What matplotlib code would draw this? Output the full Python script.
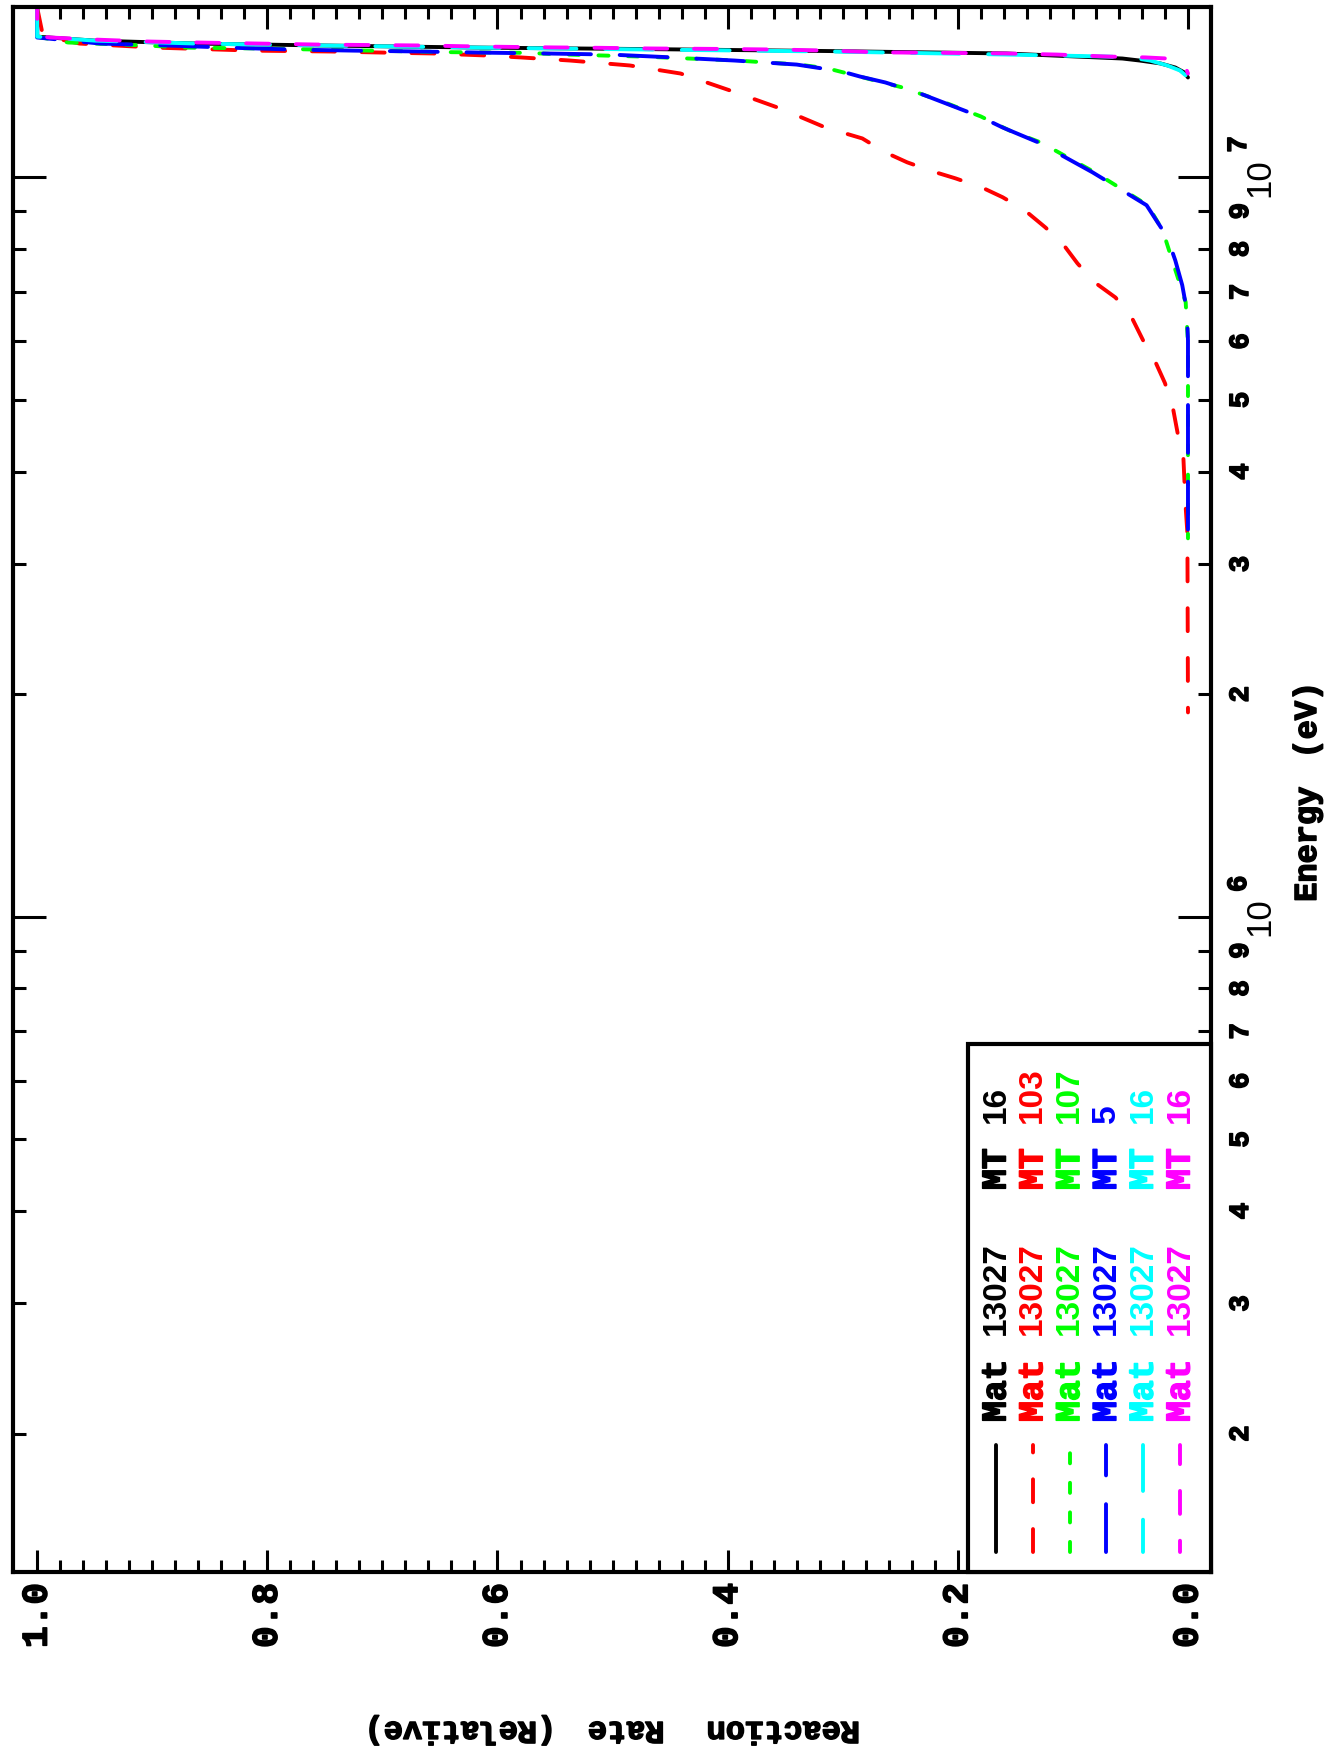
import numpy as np
import matplotlib
matplotlib.use("Agg")
import matplotlib.pyplot as plt
from matplotlib.transforms import blended_transform_factory, offset_copy
from matplotlib.patches import Rectangle
from matplotlib.lines import Line2D
from matplotlib.ticker import FixedLocator, NullFormatter
import matplotlib.patheffects as pe

W, H, DPI = 1335, 1753, 100

# ---------------- data: energy (eV) vs relative reaction rate ----------------
e_black = [1.697e7, 1.550e7, 1.531e7, 1.517e7, 1.508e7, 1.498e7, 1.491e7, 1.482e7,
           1.471e7, 1.448e7, 1.439e7, 1.426e7, 1.408e7, 1.386e7, 1.365e7]
r_black = [1.0, 1.0, 0.950, 0.861, 0.752, 0.614, 0.467, 0.311,
           0.158, 0.057, 0.042, 0.024, 0.011, 0.003, 0.0]

e_red = [1.697e7, 1.555e7, 1.517e7, 1.498e7, 1.484e7, 1.480e7, 1.475e7, 1.471e7,
         1.462e7, 1.453e7, 1.439e7, 1.417e7, 1.382e7, 1.311e7, 1.239e7, 1.168e7,
         1.129e7, 1.081e7, 1.048e7, 1.019e7, 9.97e6, 9.69e6, 9.40e6, 9.03e6,
         8.56e6, 8.14e6, 7.65e6, 7.21e6, 6.88e6, 6.47e6, 6.02e6, 5.66e6,
         5.27e6, 4.87e6, 4.51e6, 4.18e6, 3.86e6, 3.58e6, 3.30e6, 1.89e6]
r_red = [1.0, 0.995, 0.963, 0.897, 0.812, 0.745, 0.699, 0.656,
         0.611, 0.580, 0.537, 0.485, 0.441, 0.398, 0.354, 0.315,
         0.283, 0.263, 0.244, 0.222, 0.202, 0.179, 0.161, 0.142,
         0.124, 0.109, 0.096, 0.081, 0.063, 0.049, 0.039, 0.029,
         0.020, 0.013, 0.009, 0.004, 0.003, 0.002, 0.0005, 0.0]

e_green = [1.697e7, 1.550e7, 1.522e7, 1.508e7, 1.498e7, 1.494e7, 1.477e7, 1.474e7,
           1.466e7, 1.457e7, 1.439e7, 1.421e7, 1.404e7, 1.323e7, 1.271e7, 1.209e7,
           1.157e7, 1.115e7, 1.016e7, 9.17e6, 8.48e6, 6.78e6, 5.97e6, 3.25e6]
r_green = [1.0, 1.0, 0.973, 0.906, 0.870, 0.805, 0.642, 0.577,
           0.540, 0.475, 0.392, 0.338, 0.313, 0.248, 0.216, 0.180,
           0.155, 0.128, 0.081, 0.035, 0.022, 0.002, 0.0, 0.0]

e_blue = [1.697e7, 1.546e7, 1.517e7, 1.508e7, 1.498e7, 1.489e7, 1.484e7, 1.480e7,
          1.475e7, 1.471e7, 1.466e7, 1.453e7, 1.439e7, 1.421e7, 1.391e7, 1.369e7,
          1.344e7, 1.299e7, 1.209e7, 1.168e7, 1.115e7, 1.016e7, 9.17e6, 8.30e6,
          7.72e6, 7.15e6, 6.61e6, 6.02e6, 3.25e6]
r_blue = [1.0, 1.0, 0.945, 0.887, 0.834, 0.778, 0.724, 0.667,
          0.615, 0.559, 0.502, 0.448, 0.394, 0.340, 0.301, 0.285,
          0.263, 0.233, 0.181, 0.161, 0.130, 0.083, 0.036, 0.018,
          0.011, 0.005, 0.001, 0.0, 0.0]

e_cyan = [1.697e7, 1.550e7, 1.531e7, 1.517e7, 1.508e7, 1.498e7, 1.489e7, 1.480e7,
          1.466e7, 1.457e7, 1.453e7, 1.439e7, 1.417e7, 1.395e7, 1.374e7, 1.352e7]
r_cyan = [1.0, 1.0, 0.950, 0.861, 0.752, 0.614, 0.467, 0.311,
          0.158, 0.070, 0.050, 0.033, 0.018, 0.007, 0.002, 0.0]

e_magenta = [1.697e7, 1.555e7, 1.546e7, 1.536e7, 1.527e7, 1.522e7, 1.517e7, 1.512e7,
             1.510e7, 1.508e7, 1.503e7, 1.499e7, 1.497e7, 1.494e7, 1.492e7, 1.489e7,
             1.484e7, 1.476e7, 1.474e7, 1.471e7, 1.466e7, 1.457e7, 1.453e7, 1.448e7,
             1.430e7, 1.408e7, 1.382e7]
r_magenta = [1.0, 1.0, 0.989, 0.950, 0.906, 0.861, 0.807, 0.752,
             0.708, 0.665, 0.614, 0.553, 0.510, 0.467, 0.410, 0.356,
             0.311, 0.268, 0.213, 0.158, 0.114, 0.070, 0.037, 0.018,
             0.007, 0.002, 0.0]

mat_labels = ["13027", "13027", "13027", "13027", "13027", "13027"]
mt_labels = ["16", "103", "107", "5", "16", "16"]

rate_ticks = [0.0, 0.2, 0.4, 0.6, 0.8, 1.0]
rate_ticklabels = ["0.0", "0.2", "0.4", "0.6", "0.8", "1.0"]
energy_major = [1e6, 1e7]
energy_major_exp = ["6", "7"]
energy_minor = [2e5, 3e5, 4e5, 5e5, 6e5, 7e5, 8e5, 9e5,
                2e6, 3e6, 4e6, 5e6, 6e6, 7e6, 8e6, 9e6]
energy_minor_labels = ["2", "3", "4", "5", "6", "7", "8", "9"] * 2

x_title_words = ["(Relative)", "Rate", "Reaction"]
y_title_words = ["(eV)", "Energy"]

# ---------------- styles ----------------
MONO = "Liberation Mono"
SANS = "Liberation Sans"
LW = 2.8
series = [
    (r_black, e_black, "#000000", "-"),
    (r_red, e_red, "#ff0000", (0, (5.9, 6.9))),
    (r_green, e_green, "#00ff00", (0, (2.6, 5.0))),
    (r_blue, e_blue, "#0000ff", (0, (12.3, 7.4))),
    (r_cyan, e_cyan, "#00ffff", (4, (12.3, 7.4))),
    (r_magenta, e_magenta, "#ff00ff", (3, (5.9, 6.9))),
]


def heavy(color="black", w=1.1):
    return [pe.withStroke(linewidth=w, foreground=color)]


fig = plt.figure(figsize=(W / DPI, H / DPI), dpi=DPI)
fig.patch.set_facecolor("white")


def fx(px):
    return px / W


def fy(py):
    return 1 - py / H


ax = fig.add_axes([fx(13), fy(1572), (1211 - 13) / W, (1572 - 7) / H])
ax.set_yscale("log")
ax.set_xlim(1.021, -0.020)
ax.set_ylim(1.3e5, 1.7e7)
for s in ax.spines.values():
    s.set_linewidth(3.0)

for r, e, c, ls in series:
    ax.plot(r, e, color=c, linestyle=ls, linewidth=LW,
            dash_capstyle="round", solid_capstyle="round", solid_joinstyle="round")

# rate axis (horizontal, inverted)
ax.xaxis.set_major_locator(FixedLocator(rate_ticks))
ax.set_xticklabels(rate_ticklabels)
ax.xaxis.set_minor_locator(FixedLocator(np.arange(0.0, 1.001, 0.02)))
ax.tick_params(axis="x", which="major", direction="in", length=15.8, width=2.2,
               top=True, bottom=True, labelbottom=True, labeltop=False,
               pad=8, labelrotation=90, labelsize=26)
ax.tick_params(axis="x", which="minor", direction="in", length=8.6, width=2.2,
               top=True, bottom=True)
for lbl in ax.get_xticklabels():
    lbl.set_fontfamily(MONO)
    lbl.set_fontweight("bold")
    lbl.set_path_effects(heavy())

# energy axis (vertical, log)
ax.yaxis.set_major_locator(FixedLocator(energy_major))
ax.yaxis.set_minor_locator(FixedLocator(energy_minor))
ax.yaxis.set_major_formatter(NullFormatter())
ax.yaxis.set_minor_formatter(NullFormatter())
ax.tick_params(axis="y", which="major", direction="in", length=23.8, width=2.2,
               left=True, right=True, labelleft=False, labelright=False)
ax.tick_params(axis="y", which="minor", direction="in", length=9.4, width=2.2,
               left=True, right=True, labelleft=False, labelright=False)

trans = blended_transform_factory(fig.transFigure, ax.transData)
for e, l in zip(energy_minor, energy_minor_labels):
    ax.text(fx(1241), e, l, transform=trans, rotation=90, ha="center", va="center",
            fontfamily=MONO, fontweight="bold", fontsize=20, clip_on=False,
            path_effects=heavy())
trans_exp = offset_copy(trans, fig=fig, x=0, y=33, units="dots")
for e, ex in zip(energy_major, energy_major_exp):
    ax.text(fx(1260), e, "10", transform=trans, rotation=90, ha="center", va="center",
            fontfamily=SANS, fontsize=25, clip_on=False)
    ax.text(fx(1239), e, ex, transform=trans_exp, rotation=90, ha="center", va="center",
            fontfamily=MONO, fontweight="bold", fontsize=20, clip_on=False,
            path_effects=heavy())

# axis titles (word by word, as in the original spacing)
for word, cx in zip(x_title_words, [460, 626, 783]):
    fig.text(fx(cx), fy(1730), word, rotation=180, ha="center", va="center",
             fontfamily=MONO, fontweight="bold", fontsize=23, path_effects=heavy())
for word, cy in zip(y_title_words, [720, 844]):
    fig.text(fx(1308), fy(cy), word, rotation=90, ha="center", va="center",
             fontfamily=MONO, fontweight="bold", fontsize=23, path_effects=heavy())

# legend box
fig.add_artist(Rectangle((fx(968), fy(1572)), (1211 - 968) / W, (1572 - 1044) / H,
                         transform=fig.transFigure, facecolor="white",
                         edgecolor="black", linewidth=3.0, zorder=5))
for i, ((r, e, c, ls), mat, mt) in enumerate(zip(series, mat_labels, mt_labels)):
    xp = 996 + i * 36.8
    fig.add_artist(Line2D([fx(xp), fx(xp)], [fy(1552), fy(1445)], transform=fig.transFigure,
                          color=c, linestyle=ls, linewidth=LW, dash_capstyle="round",
                          solid_capstyle="round", zorder=6))
    fig.text(fx(xp), fy(1422), "Mat", rotation=90, ha="center", va="bottom", color=c,
             fontfamily=MONO, fontweight="bold", fontsize=25, zorder=6,
             path_effects=heavy(c))
    fig.text(fx(xp), fy(1335), mat, rotation=90, ha="center", va="bottom", color=c,
             fontfamily=SANS, fontweight="bold", fontsize=24, zorder=6)
    fig.text(fx(xp), fy(1190), "MT", rotation=90, ha="center", va="bottom", color=c,
             fontfamily=MONO, fontweight="bold", fontsize=25, zorder=6,
             path_effects=heavy(c))
    fig.text(fx(xp), fy(1123), mt, rotation=90, ha="center", va="bottom", color=c,
             fontfamily=SANS, fontweight="bold", fontsize=24, zorder=6)

fig.savefig("out.png", dpi=DPI, facecolor="white")
